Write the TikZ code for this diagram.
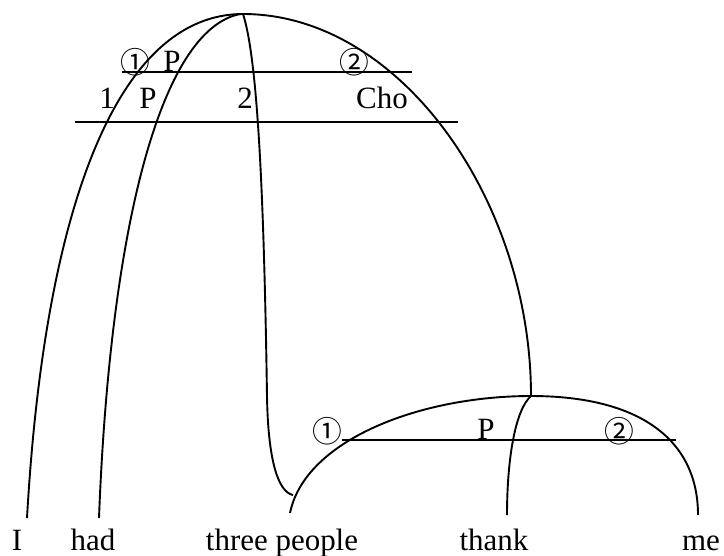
\documentclass[tikz,border=0pt]{standalone}
\usepackage{fontspec}
\setmainfont{Liberation Serif}
\newfontfamily\circfont{Noto Sans CJK SC}
\usepackage{tikz}

\begin{document}
\begin{tikzpicture}[
    x=0.42pt, y=-0.42pt,
    word/.style={anchor=base, inner sep=0pt, font=\fontsize{13}{15}\selectfont},
    lbl/.style={anchor=base, inner sep=0pt, font=\fontsize{13}{15}\selectfont},
    circ/.style={inner sep=0pt, font=\circfont\fontsize{12.5}{14}\selectfont},
    arc/.style={line width=0.8pt},
    bar/.style={line width=0.8pt},
  ]
    \useasboundingbox (0,0) rectangle (724,555);

    % words
    \node[word] (wI)     at (17,550)  {I};
    \node[word] (whad)   at (93,550)  {had};
    \node[word] (wthree) at (282,550) {three people};
    \node[word] (wthank) at (494,550) {thank};
    \node[word] (wme)    at (701,550) {me};

    % arc ends
    \coordinate (top) at (243,14);
    \coordinate (sub) at (531,396);
    \coordinate (kink) at (267,396);
    \coordinate (hook) at (293,495);
    \coordinate (lI)  at (27,518);
    \coordinate (lhad) at (99,518);
    \coordinate (lthree) at (290,513);
    \coordinate (lthank) at (507,515);
    \coordinate (lme) at (698,515);

    % upper bars
    \coordinate (b1a) at (122,72);  \coordinate (b1b) at (412,72);
    \coordinate (b2a) at (75,122);  \coordinate (b2b) at (458,122);
    \coordinate (b3a) at (342,440); \coordinate (b3b) at (676,440);
    \draw[bar] (b1a) -- (b1b);
    \draw[bar] (b2a) -- (b2b);
    \draw[bar] (b3a) -- (b3b);

    % labels
    \node[circ] (c1) at (135,62) {①};
    \node[lbl]  (p1) at (172,71) {P};
    \node[circ] (c2) at (354,62) {②};
    \node[lbl]  (n1) at (107,108) {1};
    \node[lbl]  (p2) at (148,108) {P};
    \node[lbl]  (n2) at (245,108) {2};
    \node[lbl]  (ch) at (382,108) {Cho};
    \node[circ] (c3) at (327,431) {①};
    \node[lbl]  (p3) at (486,439) {P};
    \node[circ] (c4) at (619,431) {②};

    % big arc
    \draw[arc] (lI) .. controls (45,200) and (120,14) .. (top)
               .. controls (400,14) and (531,200) .. (sub);
    \draw[arc] (lhad) .. controls (110,230) and (160,30) .. (240,14);
    \draw[arc] (top) .. controls (258,60) and (264,200) .. (kink)
               .. controls (268,460) and (278,492) .. (hook);

    % small arc
    \draw[arc] (lthree) .. controls (305,440) and (420,396) .. (sub)
               .. controls (640,396) and (698,440) .. (lme);
    \draw[arc] (sub) .. controls (515,410) and (507,460) .. (lthank);
\end{tikzpicture}
\end{document}
